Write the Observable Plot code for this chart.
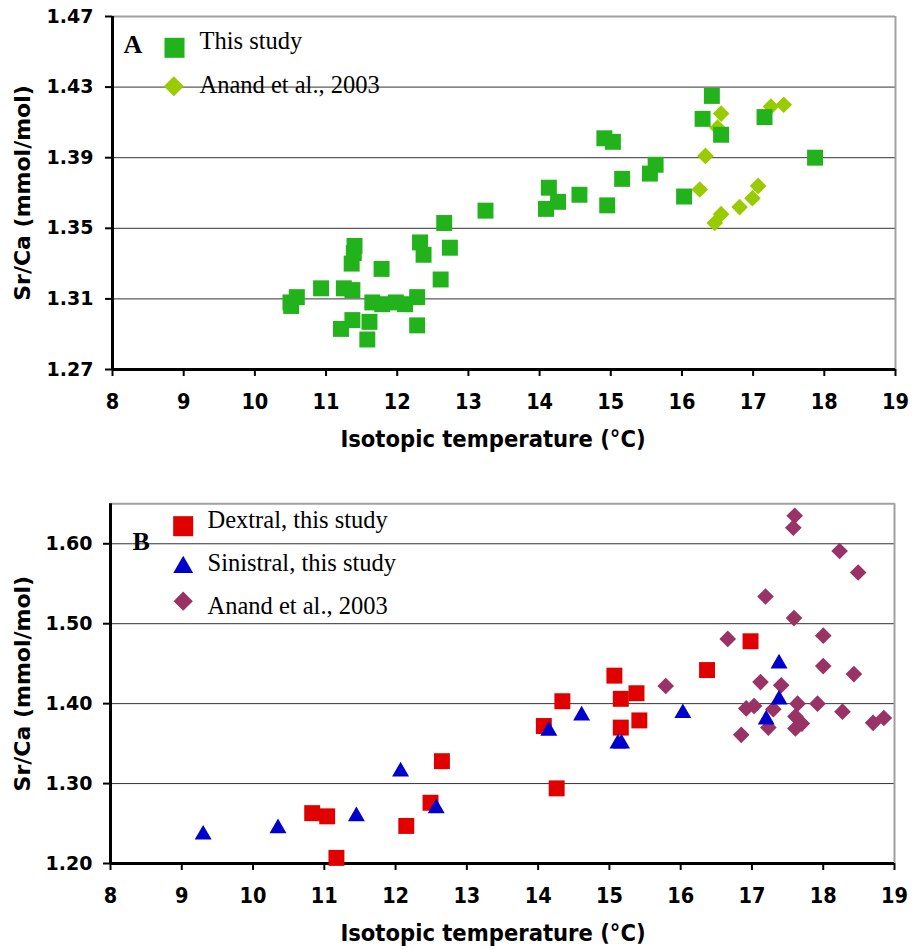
<!DOCTYPE html>
<html><head><meta charset="utf-8">
<script src="https://cdn.jsdelivr.net/npm/d3@7"></script>
<script src="https://cdn.jsdelivr.net/npm/@observablehq/plot@0.6"></script>
<style>body{margin:0;background:#fff} #chart svg{display:block}</style>
</head><body><div id="chart"></div>
<script>
// ---------- Panel A data ----------
const thisStudyA_temp = [13.24,12.66,12.74,12.32,12.37,12.61,12.28,12.28,11.40,11.39,11.36,11.78,10.93,11.25,11.37,10.50,10.59,10.51,11.65,11.79,11.98,12.11,11.37,11.21,11.61,11.58,16.42,16.29,16.55,17.16,17.87,14.91,15.03,15.63,15.55,15.16,14.13,14.26,14.56,14.09,14.95,16.03];
const thisStudyA_srca = [1.360,1.353,1.339,1.342,1.335,1.321,1.311,1.295,1.340,1.336,1.330,1.327,1.316,1.316,1.315,1.308,1.311,1.306,1.308,1.307,1.308,1.307,1.298,1.293,1.297,1.287,1.425,1.412,1.403,1.413,1.390,1.401,1.399,1.386,1.381,1.378,1.373,1.365,1.369,1.361,1.363,1.368];
const anandA_temp = [16.55,16.50,17.25,17.43,16.33,16.25,17.07,16.99,16.81,16.55,16.46];
const anandA_srca = [1.415,1.407,1.419,1.420,1.391,1.372,1.374,1.367,1.362,1.358,1.353];

// ---------- Panel B data ----------
const dextral_temp = [12.65,12.49,12.15,10.83,11.04,11.17,14.08,14.34,14.26,15.07,15.16,15.38,15.16,15.42,16.37,16.98];
const dextral_srca = [1.328,1.276,1.247,1.263,1.259,1.207,1.372,1.403,1.294,1.435,1.406,1.413,1.370,1.379,1.442,1.478];
const sinistral_temp = [9.30,10.35,11.45,12.07,12.57,14.15,14.61,15.12,15.17,16.03,17.38,17.38,17.20];
const sinistral_srca = [1.236,1.244,1.259,1.315,1.269,1.366,1.385,1.350,1.350,1.388,1.450,1.405,1.380];
const anandB_temp = [17.60,17.58,18.23,18.49,17.19,17.59,18.00,16.66,18.00,18.43,15.79,17.12,17.41,16.92,17.03,17.64,17.92,17.30,18.27,17.61,17.70,17.61,17.23,16.85,18.70,18.85];
const anandB_srca = [1.635,1.620,1.591,1.564,1.534,1.507,1.485,1.481,1.447,1.437,1.422,1.427,1.423,1.394,1.397,1.400,1.400,1.393,1.390,1.384,1.375,1.369,1.370,1.361,1.376,1.382];

// ---------- ticks / labels ----------
const xTicks = [8,9,10,11,12,13,14,15,16,17,18,19];
const yTicksA = [1.27,1.31,1.35,1.39,1.43,1.47];
const yTicksB = [1.20,1.30,1.40,1.50,1.60];
const yTopB = 1.65;
const xTitle = "Isotopic temperature (°C)";
const yTitle = "Sr/Ca (mmol/mol)";
const legendA = ["This study", "Anand et al., 2003"];
const legendB = ["Dextral, this study", "Sinistral, this study", "Anand et al., 2003"];

const zip = (t, s) => t.map((d, i) => ({t: d, s: s[i]}));

const GREEN = "#22b31c", LIME = "#99cc00", RED = "#e00000", BLUE = "#0000cc", PLUM = "#993366";
const fmt2 = d3.format(".2f");
const condensed = "'DejaVu Sans Condensed', 'DejaVu Sans', sans-serif";
const serif = "'Liberation Serif', 'Times New Roman', serif";

function frameMarks(yTicks, yTop, tickPad, xDx, yDx) {
  const yGrid = yTicks.slice(1).filter(v => v < yTop);
  return [
    Plot.ruleY(yGrid, {stroke: "#333", strokeWidth: 1}),
    Plot.ruleY([yTop], {stroke: "#a0a0a0", strokeWidth: 2}),
    Plot.ruleX([19], {stroke: "#a0a0a0", strokeWidth: 2}),
    Plot.axisY({ticks: yTicks, tickFormat: fmt2, tickSize: 7, tickPadding: tickPad, stroke: "black", strokeWidth: 2, label: null, fontSize: 19, fontFamily: "'DejaVu Sans', sans-serif", fontWeight: "bold"}),
    Plot.axisX({ticks: xTicks, tickFormat: d => String(d), tickSize: 7, tickPadding: 17, stroke: "black", strokeWidth: 2, label: null, fontSize: 21.5, fontFamily: condensed, fontWeight: "bold"}),
    Plot.ruleX([8], {stroke: "black", strokeWidth: 3}),
    Plot.ruleY([yTicks[0]], {stroke: "black", strokeWidth: 3}),
    Plot.text([xTitle], {text: d => d, frameAnchor: "bottom", lineAnchor: "middle", textAnchor: "middle", dy: 69.5, dx: xDx, fontSize: 23.5, fontFamily: condensed, fontWeight: "bold"}),
    Plot.text([yTitle], {text: d => d, frameAnchor: "left", lineAnchor: "middle", textAnchor: "middle", rotate: -90, dx: yDx, fontSize: 22, fontFamily: "'DejaVu Sans', sans-serif", fontWeight: "bold", letterSpacing: 1})
  ];
}

const legendText = (label, dx, dy, size = 24.5, weight = "normal") =>
  Plot.text([label], {text: d => d, frameAnchor: "top-left", lineAnchor: "middle", textAnchor: "start", dx, dy, fontSize: size, fontFamily: serif, fontWeight: weight});

const chartA = Plot.plot({
  width: 913, height: 470,
  marginLeft: 112, marginRight: 18, marginTop: 16, marginBottom: 101,
  style: {fontFamily: "'DejaVu Sans', sans-serif", fontWeight: "bold", background: "white", overflow: "visible"},
  x: {domain: [8, 19]},
  y: {domain: [yTicksA[0], yTicksA[yTicksA.length - 1]]},
  marks: [
    ...frameMarks(yTicksA, yTicksA[yTicksA.length - 1], 12, -11, -90),
    Plot.dot(zip(anandA_temp, anandA_srca), {x: "t", y: "s", symbol: "diamond2", r: 7.5, fill: LIME}),
    Plot.dot(zip(thisStudyA_temp, thisStudyA_srca), {x: "t", y: "s", symbol: "square", r: 9, fill: GREEN}),
    // panel letter and legend
    legendText("A", 11, 28, 26, "bold"),
    Plot.dot([0], {frameAnchor: "top-left", dx: 62, dy: 31.3, symbol: "square", r: 11.3, fill: GREEN}),
    Plot.dot([0], {frameAnchor: "top-left", dx: 61.3, dy: 69.7, symbol: "diamond2", r: 9, fill: LIME}),
    legendText(legendA[0], 87, 24.3),
    legendText(legendA[1], 87, 69)
  ]
});

const chartB = Plot.plot({
  width: 913, height: 479,
  marginLeft: 110, marginRight: 19, marginTop: 33.3, marginBottom: 86,
  style: {fontFamily: "'DejaVu Sans', sans-serif", fontWeight: "bold", background: "white", overflow: "visible"},
  x: {domain: [8, 19]},
  y: {domain: [yTicksB[0], yTopB]},
  marks: [
    ...frameMarks(yTicksB, yTopB, 11, -9.5, -88),
    Plot.dot(zip(anandB_temp, anandB_srca), {x: "t", y: "s", symbol: "diamond2", r: 7.5, fill: PLUM}),
    Plot.dot(zip(dextral_temp, dextral_srca), {x: "t", y: "s", symbol: "square", r: 9, fill: RED}),
    Plot.dot(zip(sinistral_temp, sinistral_srca), {x: "t", y: "s", symbol: "triangle", r: 6.3, fill: BLUE}),
    legendText("B", 22, 37.7, 26, "bold"),
    Plot.dot([0], {frameAnchor: "top-left", dx: 72.7, dy: 22.4, symbol: "square", r: 11.3, fill: RED}),
    Plot.dot([0], {frameAnchor: "top-left", dx: 72.7, dy: 63.5, symbol: "triangle", r: 7.4, fill: BLUE}),
    Plot.dot([0], {frameAnchor: "top-left", dx: 72.7, dy: 97.4, symbol: "diamond2", r: 8.7, fill: PLUM}),
    legendText(legendB[0], 97, 16.3),
    legendText(legendB[1], 97, 59),
    legendText(legendB[2], 97, 102.3)
  ]
});

document.getElementById("chart").append(chartA, chartB);
</script></body></html>
